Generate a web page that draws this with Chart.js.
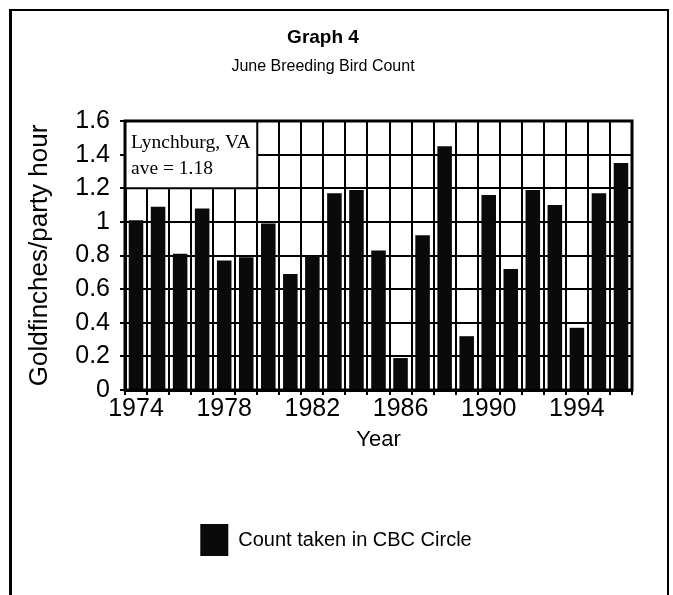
<!DOCTYPE html>
<html>
<head>
<meta charset="utf-8">
<script src="https://cdn.jsdelivr.net/npm/chart.js@4.4.0/dist/chart.umd.min.js"></script>
<style>
  html, body { margin: 0; padding: 0; background: #fff; }
  #wrap { position: relative; width: 673px; height: 595px; overflow: hidden; }
  #frame {
    position: absolute; left: 9px; top: 9px; width: 655px; height: 620px;
    border-left: 3px solid #000; border-top: 2px solid #000; border-right: 2px solid #000;
    pointer-events: none;
  }
</style>
</head>
<body>
<div id="wrap">
  <canvas id="birdChart" width="673" height="595"></canvas>
  <div id="frame"></div>
</div>
<script>
// Data
const years = ['1974', '1975', '1976', '1977', '1978', '1979', '1980', '1981', '1982', '1983', '1984', '1985',
  '1986', '1987', '1988', '1989', '1990', '1991', '1992', '1993', '1994', '1995', '1996'];
const goldfinchesPerHour = [1.01, 1.09, 0.81, 1.08, 0.77, 0.79, 0.99, 0.69, 0.80, 1.17, 1.19, 0.83,
  0.19, 0.92, 1.45, 0.32, 1.16, 0.72, 1.19, 1.10, 0.37, 1.17, 1.35];
const noteLines = ['Lynchburg, VA', 'ave = 1.18'];

const sans = "'Liberation Sans', Arial, sans-serif";

// frame around the plot plus the white note box in the top-left corner
const plotExtras = {
  id: 'plotExtras',
  afterLayout(chart) {
    // legend sits a little right of the title in the original
    chart.legend.left += 26;
  },
  afterDatasetsDraw(chart) {
    const { ctx, chartArea, scales } = chart;
    const x = scales.x, y = scales.y;
    const boxRight = (x.getPixelForValue(5) + x.getPixelForValue(6)) / 2;
    const boxBottom = y.getPixelForValue(1.2);
    ctx.save();
    ctx.fillStyle = '#fff';
    ctx.fillRect(chartArea.left, chartArea.top, boxRight - chartArea.left, boxBottom - chartArea.top);
    ctx.strokeStyle = '#000';
    ctx.lineWidth = 2;
    ctx.strokeRect(chartArea.left, chartArea.top, boxRight - chartArea.left, boxBottom - chartArea.top);
    ctx.lineWidth = 3;
    ctx.strokeRect(chartArea.left, chartArea.top, chartArea.right - chartArea.left, chartArea.bottom - chartArea.top);
    ctx.fillStyle = '#000';
    ctx.font = "19.5px 'Liberation Serif', 'Times New Roman', serif";
    ctx.textBaseline = 'alphabetic';
    ctx.fillText(noteLines[0], chartArea.left + 6, chartArea.top + 27);
    ctx.fillText(noteLines[1], chartArea.left + 6, chartArea.top + 53);
    ctx.restore();
  }
};

document.addEventListener('DOMContentLoaded', function() {
  const ctx = document.getElementById('birdChart').getContext('2d');
  new Chart(ctx, {
    type: 'bar',
    data: {
      labels: years,
      datasets: [{
        label: 'Count taken in CBC Circle',
        data: goldfinchesPerHour,
        backgroundColor: '#0a0a0a',
        borderWidth: 0,
        barPercentage: 0.66,
        categoryPercentage: 1
      }]
    },
    options: {
      responsive: false,
      animation: false,
      layout: { padding: { left: 14, right: 41, top: 26, bottom: 29 } },
      plugins: {
        title: {
          display: true,
          text: 'Graph 4',
          color: '#000',
          font: { family: sans, size: 19, weight: 'bold', lineHeight: 1.2 },
          padding: { top: 0, bottom: 4 }
        },
        subtitle: {
          display: true,
          text: 'June Breeding Bird Count',
          color: '#000',
          font: { family: sans, size: 16, lineHeight: 1.2 },
          padding: { top: 4, bottom: 45 }
        },
        legend: {
          display: true,
          position: 'bottom',
          labels: {
            color: '#000',
            font: { family: sans, size: 20 },
            boxWidth: 28,
            boxHeight: 32,
            padding: 10
          }
        },
        tooltip: { enabled: false }
      },
      scales: {
        x: {
          afterFit: function(scale) { scale.height = 124; },
          grid: { color: '#000', lineWidth: 2, offset: true, tickLength: 5, tickColor: '#000' },
          border: { color: '#000', width: 3 },
          ticks: {
            color: '#000',
            autoSkip: false,
            maxRotation: 0,
            padding: 2,
            font: { family: sans, size: 25, lineHeight: 1 },
            callback: function(val, i) { return i % 4 === 0 ? this.getLabelForValue(val) : ''; }
          },
          title: {
            display: true,
            text: 'Year',
            color: '#000',
            font: { family: sans, size: 22, lineHeight: 1.2 },
            padding: { top: 0, bottom: 61 }
          }
        },
        y: {
          min: 0,
          max: 1.6,
          afterFit: function(scale) { scale.width = 111; },
          grid: {
            color: '#000',
            lineWidth: 2,
            tickLength: 5,
            tickColor: c => (Math.round(c.tick.value * 10) % 2 === 0 ? '#000' : 'rgba(0,0,0,0)')
          },
          border: { color: '#000', width: 3 },
          ticks: {
            stepSize: 0.1,
            color: '#000',
            padding: 10,
            font: { family: sans, size: 25 },
            callback: v => (Math.round(v * 10) % 2 === 0 ? String(Math.round(v * 10) / 10) : '')
          },
          title: {
            display: true,
            text: 'Goldfinches/party hour',
            color: '#000',
            font: { family: sans, size: 26, lineHeight: 1.2 },
            padding: { top: 10, bottom: 0 }
          }
        }
      }
    },
    plugins: [plotExtras]
  });
});
</script>
</body>
</html>
